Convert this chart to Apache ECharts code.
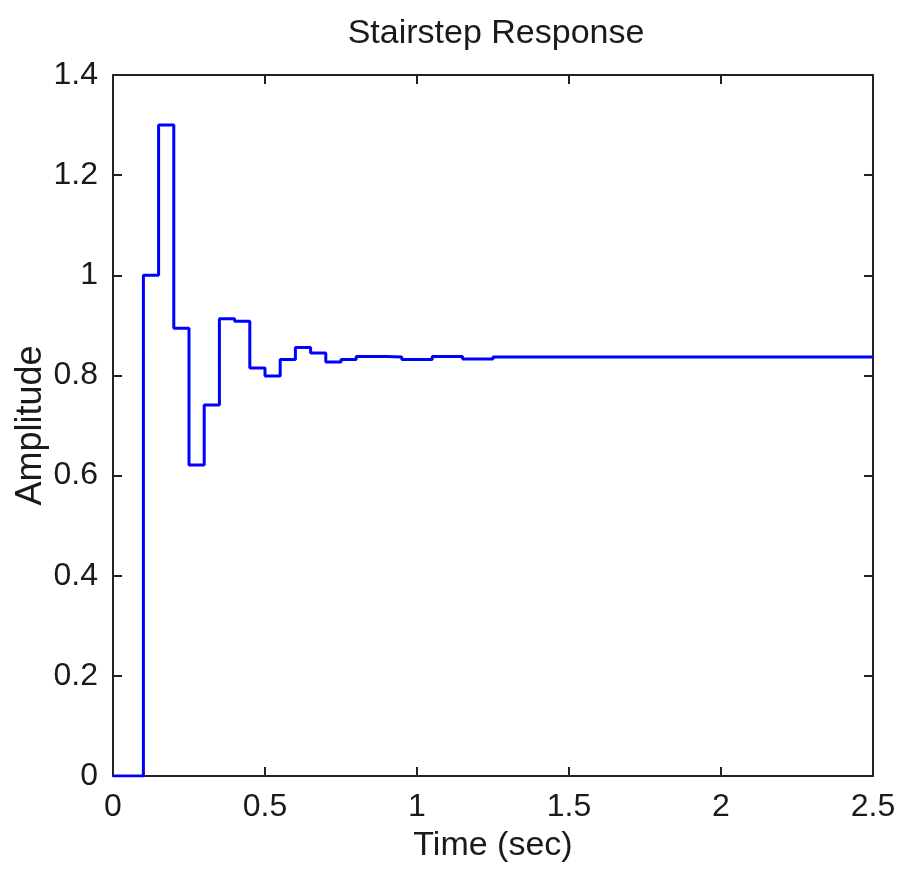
<!DOCTYPE html>
<html>
<head>
<meta charset="utf-8">
<script src="https://cdn.jsdelivr.net/npm/echarts@6/dist/echarts.min.js"></script>
<style>
  html, body { margin: 0; padding: 0; background: #fff; }
  #main { width: 900px; height: 869px; }
</style>
</head>
<body>
<div id="main"></div>
<script>
// sample times (sec), 0.05 s period
var times = [0, 0.05, 0.1, 0.15, 0.2, 0.25, 0.3, 0.35, 0.4, 0.45, 0.5, 0.55, 0.6, 0.65, 0.7, 0.75,
  0.8, 0.85, 0.9, 0.95, 1.0, 1.05, 1.1, 1.15, 1.2, 1.25, 2.5];
// held amplitude at each sample
var amps = [0, 0, 1.0, 1.3, 0.894, 0.621, 0.741, 0.913, 0.908, 0.815, 0.799, 0.832, 0.856, 0.845, 0.827, 0.832,
  0.838, 0.838, 0.837, 0.832, 0.832, 0.838, 0.838, 0.833, 0.833, 0.837, 0.837];
var xTicks = [0, 0.5, 1, 1.5, 2, 2.5];
var yTicks = [0, 0.2, 0.4, 0.6, 0.8, 1, 1.2, 1.4];

var pts = [];
for (var i = 0; i < times.length; i++) pts.push([times[i], amps[i]]);

var fnt = "'Liberation Sans', Arial, sans-serif";
var axColor = '#222';
var txtColor = '#1a1a1a';

function tickFmt(list) {
  return function (v) {
    for (var k = 0; k < list.length; k++) {
      if (Math.abs(list[k] - v) < 1e-9) return String(list[k]);
    }
    return '';
  };
}

var myChart = echarts.init(document.getElementById('main'));
var option = {
  backgroundColor: '#fff',
  animation: false,
  title: {
    text: 'Stairstep Response',
    left: 491,
    textAlign: 'center',
    top: 12,
    textStyle: { fontFamily: fnt, fontSize: 34, fontWeight: 'normal', color: txtColor }
  },
  grid: { left: 113, right: 27, top: 75, bottom: 93, containLabel: false, outerBoundsMode: 'none' },
  xAxis: [{
    type: 'value',
    min: 0, max: 2.5, interval: 0.5,
    name: 'Time (sec)',
    nameLocation: 'middle',
    nameGap: 53,
    nameMoveOverlap: false,
    nameTextStyle: { fontFamily: fnt, fontSize: 34, color: txtColor },
    axisLine: { show: true, onZero: false, lineStyle: { color: axColor, width: 2 } },
    axisTick: { show: true, inside: true, length: 9, lineStyle: { color: axColor, width: 2 } },
    axisLabel: { fontFamily: fnt, fontSize: 32, color: txtColor, margin: 15, formatter: tickFmt(xTicks) },
    splitLine: { show: false }
  }, {
    type: 'value', position: 'top',
    min: 0, max: 2.5, interval: 0.5,
    axisLine: { show: true, onZero: false, lineStyle: { color: axColor, width: 2 } },
    axisTick: { show: true, inside: true, length: 9, lineStyle: { color: axColor, width: 2 } },
    axisLabel: { show: false },
    splitLine: { show: false }
  }],
  yAxis: [{
    type: 'value',
    min: 0, max: 1.4, interval: 0.2,
    name: 'Amplitude',
    nameLocation: 'middle',
    nameGap: 64,
    nameMoveOverlap: false,
    nameTextStyle: { fontFamily: fnt, fontSize: 36, color: txtColor },
    axisLine: { show: true, onZero: false, lineStyle: { color: axColor, width: 2 } },
    axisTick: { show: true, inside: true, length: 9, lineStyle: { color: axColor, width: 2 } },
    axisLabel: { fontFamily: fnt, fontSize: 32, color: txtColor, margin: 15, formatter: tickFmt(yTicks) },
    splitLine: { show: false }
  }, {
    type: 'value', position: 'right',
    min: 0, max: 1.4, interval: 0.2,
    axisLine: { show: true, onZero: false, lineStyle: { color: axColor, width: 2 } },
    axisTick: { show: true, inside: true, length: 9, lineStyle: { color: axColor, width: 2 } },
    axisLabel: { show: false },
    splitLine: { show: false }
  }],
  series: [{
    type: 'line',
    step: 'end',
    data: pts,
    showSymbol: false,
    symbol: 'none',
    lineStyle: { color: '#0000ff', width: 3 },
    z: 3
  }, {
    // binds the box axes (top/right) so they are drawn
    type: 'line',
    xAxisIndex: 1,
    yAxisIndex: 1,
    data: [],
    silent: true
  }]
};
myChart.setOption(option);
window.addEventListener('resize', function () { myChart.resize(); });
</script>
</body>
</html>
